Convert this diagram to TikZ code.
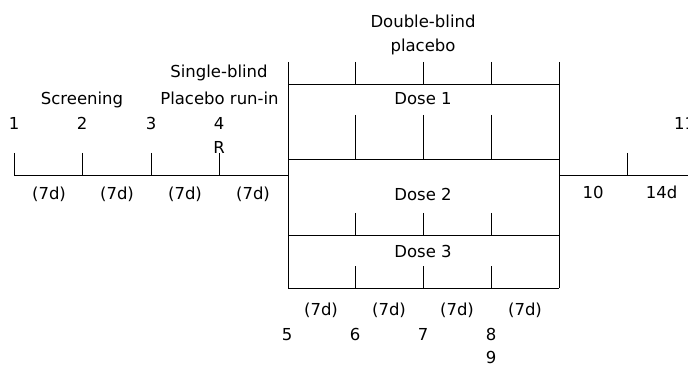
\documentclass[tikz,border=0pt]{standalone}
\usepackage{fontspec}
\setmainfont{DejaVu Sans}
\begin{document}
\begin{tikzpicture}[x=1pt,y=-1pt,
  ln/.style={line width=1pt,black},
  lbl/.style={anchor=base,inner sep=0pt,font=\fontsize{16.5}{18}\selectfont}]
\useasboundingbox (0,0) rectangle (688,366);
\clip (0,0) rectangle (688,366);
% coordinates
\coordinate (L0) at (14,175.5);
\coordinate (BL) at (288,62);
\coordinate (BR) at (559,62);
\coordinate (R1) at (559,175.5);
\coordinate (R2) at (688,175.5);
% left timeline
\draw[ln] (L0) -- (288,175.5);
\foreach \x in {14,82,151,219} \draw[ln] (\x,153) -- (\x,175.5);
% block
\draw[ln] (BL) -- (288,288);
\draw[ln] (BR) -- (559,288);
\foreach \y in {84.5,160,236,288} \draw[ln] (288,\y) -- (559,\y);
\foreach \x in {355,423,491} {
  \draw[ln] (\x,62) -- (\x,84.5);
  \draw[ln] (\x,115) -- (\x,160);
  \draw[ln] (\x,213) -- (\x,236);
  \draw[ln] (\x,266) -- (\x,288);
}
% right timeline
\draw[ln] (R1) -- (R2);
\draw[ln] (627.5,153) -- (627.5,175.5);
% labels
\node[lbl] (db) at (423,28) {Double-blind};
\node[lbl] (pl) at (423,52) {placebo};
\node[lbl] (sb) at (219,78) {Single-blind};
\node[lbl] (pr) at (219.5,105) {Placebo run-in};
\node[lbl] (sc) at (82,105) {Screening};
\node[lbl] (n1) at (14,130) {1};
\node[lbl] (n2) at (82,130) {2};
\node[lbl] (n3) at (151,130) {3};
\node[lbl] (n4) at (219,130) {4};
\node[lbl] (rr) at (219,154) {R};
\node[lbl,anchor=base west] (n11) at (674,130) {11};
\node[lbl] (d1) at (49,200) {(7d)};
\node[lbl] (d2) at (117,200) {(7d)};
\node[lbl] (d3) at (185,200) {(7d)};
\node[lbl] (d4) at (253,200) {(7d)};
\node[lbl] (dose1) at (423,105) {Dose 1};
\node[lbl] (dose2) at (423,200.5) {Dose 2};
\node[lbl] (dose3) at (423,257.5) {Dose 3};
\node[lbl] (n10) at (593,199) {10};
\node[lbl] (d14) at (661.5,199) {14d};
\node[lbl] (b1) at (321,315.5) {(7d)};
\node[lbl] (b2) at (389,315.5) {(7d)};
\node[lbl] (b3) at (457,315.5) {(7d)};
\node[lbl] (b4) at (525,315.5) {(7d)};
\node[lbl] (n5) at (287,340) {5};
\node[lbl] (n6) at (355,340) {6};
\node[lbl] (n7) at (423,340) {7};
\node[lbl] (n8) at (491,340) {8};
\node[lbl] (n9) at (491,363.5) {9};
\end{tikzpicture}
\end{document}
